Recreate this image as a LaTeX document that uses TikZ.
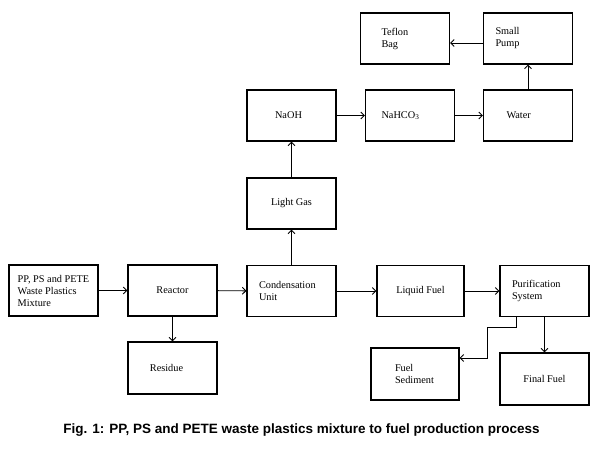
\documentclass[tikz,border=0pt]{standalone}
\usepackage{fontspec}
\setmainfont{Liberation Serif}
\newfontfamily\capfont{Liberation Sans}
\usetikzlibrary{arrows.meta}

\begin{document}
\begin{tikzpicture}[x=1pt,y=-1pt,>={Straight Barb[length=3.5pt,width=7pt]},
  blk/.style={draw,line width=1.1pt,minimum width=89pt,minimum height=51pt,inner sep=0pt,
    font=\fontsize{10.3}{12}\selectfont},
  lt/.style={text width=#1,align=left},
  flow/.style={->,line width=0.9pt}]

  % frame of the page
  \useasboundingbox (0,0) rectangle (611,456);

  % ---------- bottom row ----------
  \node[blk,align=left] (mix) at (53.5,290.5) {PP, PS and PETE\\Waste Plastics\\Mixture};
  \node[blk] (reactor) at (172.5,290.5) {Reactor};
  \node[blk,minimum height=52pt] (residue) at (172.5,368) {\hspace*{-12pt}Residue};
  \node[blk,lt=65pt] (cond) at (291.5,291) {Condensation\\Unit};
  \node[blk,minimum width=87pt] (liquid) at (420.5,291) {Liquid Fuel};
  \node[blk,lt=65pt] (purif) at (544.5,291) {Purification\\System};
  \node[blk,lt=40pt,minimum width=88pt,minimum height=52pt] (sediment) at (415,374) {Fuel\\Sediment};
  \node[blk,minimum height=52pt] (final) at (544.5,379) {Final Fuel};

  % ---------- gas line ----------
  \node[blk] (gas) at (291.5,203.5) {Light Gas};
  \node[blk] (naoh) at (291.5,115.5) {\hspace*{-6pt}NaOH};
  \node[blk,lt=57pt] (nahco) at (410,115.5) {NaHCO\textsubscript{3}};
  \node[blk,lt=43pt] (water) at (528,115.5) {\raisebox{-4pt}{Water}};
  \node[blk,lt=65pt] (pump) at (528,38.5) {Small\\Pump};
  \node[blk,lt=47pt] (teflon) at (405,38.5) {Teflon\\Bag};

  % arrows
  \draw[flow] (mix) -- (reactor);
  \draw[flow] (reactor) -- (cond);
  \draw[flow] (cond) -- (liquid);
  \draw[flow] (liquid) -- (purif);
  \draw[flow] (reactor) -- (residue);
  \draw[flow] (purif.south -| final) -- (final);
  \draw[flow] (purif.south -| 516,0) |- (487,327) |- (sediment.east |- 0,358);
  \draw[flow] (cond) -- (gas);
  \draw[flow] (gas) -- (naoh);
  \draw[flow] (naoh) -- (nahco);
  \draw[flow] (nahco) -- (water);
  \draw[flow] (water) -- (pump);
  \draw[flow] (pump.west |- 0,43) -- (teflon.east |- 0,43);

  % caption
  \node[font=\capfont\bfseries\fontsize{13.5}{15}\selectfont] (cap) at (301.5,430)
    {Fig. 1: PP, PS and PETE waste plastics mixture to fuel production process};
\end{tikzpicture}
\end{document}
